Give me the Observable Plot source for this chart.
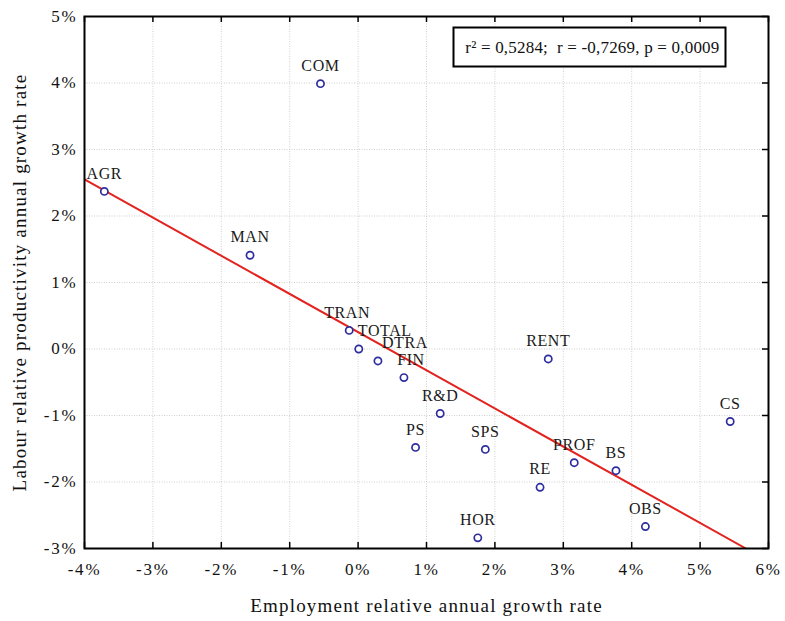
<!DOCTYPE html>
<html>
<head>
<meta charset="utf-8">
<script src="https://cdn.jsdelivr.net/npm/d3@7"></script>
<script src="https://cdn.jsdelivr.net/npm/@observablehq/plot@0.6"></script>
<style>
  html, body { margin: 0; padding: 0; background: #fff; }
  #chart svg { display: block; }
  g[aria-label="x-axis tick label"] text, g[aria-label="y-axis tick label"] text { letter-spacing: 1.8px; }
  g.title text { letter-spacing: 1.2px; }
  g.labels text { letter-spacing: 0.6px; }
  g.stats text { letter-spacing: 0.2px; }
</style>
</head>
<body>
<div id="chart"></div>
<script>
// ---- data ----
const sectors      = ["AGR", "MAN", "COM", "TRAN", "TOTAL", "DTRA", "FIN", "R&D", "PS", "SPS", "RENT", "CS", "PROF", "BS", "RE", "HOR", "OBS"];
const employment   = [-3.71, -1.58, -0.55, -0.13, 0.01, 0.29, 0.67, 1.20, 0.84, 1.86, 2.78, 5.44, 3.16, 3.77, 2.66, 1.75, 4.20];
const productivity = [2.37, 1.41, 3.99, 0.28, 0.00, -0.18, -0.43, -0.97, -1.48, -1.51, -0.15, -1.09, -1.71, -1.83, -2.08, -2.84, -2.67];

// fitted regression line (as drawn)
const fitX = [-4.0, 5.67];
const fitY = [2.55, -3.0];

const xTicks = [-4, -3, -2, -1, 0, 1, 2, 3, 4, 5, 6];
const yTicks = [-3, -2, -1, 0, 1, 2, 3, 4, 5];

const statR2 = "0,5284";
const statR = "-0,7269";
const statP = "0,0009";

const xTitle = "Employment relative annual growth rate";
const yTitle = "Labour relative productivity annual growth rate";

// ---- build tables ----
const points = sectors.map((s, i) => ({sector: s, x: employment[i], y: productivity[i]}));
const fit = fitX.map((x, i) => ({x, y: fitY[i]}));

// label horizontal offsets (layout only)
const labelDx = {"TOTAL": 26, "DTRA": 27, "FIN": 7, "TRAN": -2};
const offsetGroups = [...new Set([0, ...Object.values(labelDx)])];
const dxOf = s => labelDx[s] ?? 0;

const W = 785, H = 621;
const mL = 84, mR = 17, mT = 16, mB = 73;
const pw = W - mL - mR, ph = H - mT - mB;
const tickLen = 6;
const pct = d => d + "%";

const labelMarks = offsetGroups.map(dx => Plot.text(points.filter(p => dxOf(p.sector) === dx), {
  x: "x", y: "y", text: "sector", dx, dy: -18,
  fontSize: 16, fill: "#1a1a1a", textAnchor: "middle", lineAnchor: "middle",
  className: "labels"
}));

const chart = Plot.plot({
  width: W, height: H,
  marginLeft: mL, marginRight: mR, marginTop: mT, marginBottom: mB,
  style: {fontFamily: "'Liberation Serif', 'Times New Roman', serif", background: "#fff", color: "#111"},
  x: {domain: [-4, 6]},
  y: {domain: [-3, 5]},
  marks: [
    Plot.gridX(xTicks, {stroke: "#cfcfcf", strokeOpacity: 1, strokeWidth: 1, strokeDasharray: "1,1.5"}),
    Plot.gridY(yTicks, {stroke: "#cfcfcf", strokeOpacity: 1, strokeWidth: 1, strokeDasharray: "1,1.5"}),
    // inward ticks on bottom, top and right edges
    Plot.ruleX(xTicks, {x: d => d, insetTop: ph - tickLen, stroke: "#000", strokeWidth: 1.5}),
    Plot.ruleX(xTicks, {x: d => d, insetBottom: ph - tickLen, stroke: "#000", strokeWidth: 1.5}),
    Plot.ruleY(yTicks, {y: d => d, insetLeft: pw - tickLen, stroke: "#000", strokeWidth: 1.5}),
    Plot.line(fit, {x: "x", y: "y", stroke: "#e3231f", strokeWidth: 2, clip: true}),
    Plot.dot(points, {x: "x", y: "y", r: 3.6, stroke: "#2d2d9e", strokeWidth: 1.7, fill: "#fff"}),
    ...labelMarks,
    Plot.frame({stroke: "#000", strokeWidth: 2}),
    Plot.axisX(xTicks, {tickSize: 0, tickPadding: 14, tickFormat: pct, fontSize: 17, label: null}),
    Plot.axisY(yTicks, {tickSize: 0, tickPadding: 7, tickFormat: pct, fontSize: 17, label: null}),
    // axis titles
    Plot.text([xTitle], {frameAnchor: "bottom", dy: 57, lineAnchor: "middle", fontSize: 19, fill: "#111", className: "title"}),
    Plot.text([yTitle], {frameAnchor: "left", dx: -65, rotate: -90, textAnchor: "middle", lineAnchor: "middle", fontSize: 19, fill: "#111", className: "title"}),
    // statistics box
    Plot.frame({insetLeft: 453 - mL, insetRight: W - mR - 725, insetTop: 27 - mT, insetBottom: mT + ph - 66, stroke: "#000", strokeWidth: 2, fill: "#fff"}),
    Plot.text([`r\u00B2 = ${statR2};  r = ${statR}, p = ${statP}`], {
      frameAnchor: "top-right", dx: -(W - mR - 719), dy: 47 - mT,
      textAnchor: "end", lineAnchor: "middle", fontSize: 17, fill: "#111", className: "stats"
    })
  ]
});

document.getElementById("chart").appendChild(chart);
</script>
</body>
</html>
